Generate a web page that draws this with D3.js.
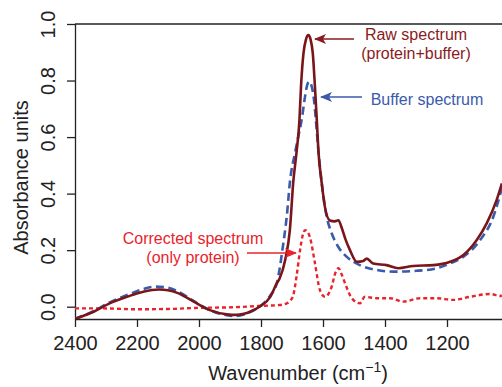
<!DOCTYPE html>
<html><head><meta charset="utf-8">
<script src="https://cdn.jsdelivr.net/npm/d3@7"></script>
<style>body{margin:0;background:#fff}svg{display:block;font-family:"Liberation Sans",Arial,Helvetica,sans-serif}</style>
</head><body>
<svg id="chart" width="502" height="387"></svg>
<script>
// ---- data ----
const rawWave = [2400,2340,2290,2230,2180,2130,2100,2070,2020,1965,1910,1880,1855,1830,1805,1770,1749,1740,1722,1707,1696,1685,1676,1671,1663,1655,1647,1640,1633,1626,1620,1615,1604,1594,1578,1562,1550,1540,1528,1513,1491,1470,1459,1438,1395,1357,1309,1244,1190,1147,1104,1072,1040,1023];
const rawAbs  = [-0.043,-0.018,0.011,0.036,0.053,0.061,0.058,0.049,0.020,-0.012,-0.027,-0.029,-0.025,-0.015,0.000,0.035,0.083,0.100,0.165,0.270,0.440,0.550,0.660,0.778,0.896,0.945,0.961,0.945,0.897,0.778,0.660,0.554,0.436,0.354,0.305,0.302,0.306,0.280,0.240,0.200,0.159,0.162,0.170,0.153,0.147,0.136,0.144,0.147,0.159,0.183,0.236,0.295,0.377,0.436];

const bufWave = [2400,2340,2290,2230,2180,2140,2100,2070,2020,1965,1910,1880,1855,1830,1805,1770,1749,1728,1717,1706,1690,1680,1669,1658,1652,1645,1638,1629,1623,1615,1604,1588,1572,1551,1524,1481,1427,1373,1298,1233,1190,1147,1093,1050,1023];
const bufAbs  = [-0.043,-0.016,0.014,0.042,0.062,0.071,0.067,0.055,0.022,-0.012,-0.030,-0.033,-0.028,-0.016,0.000,0.040,0.083,0.224,0.318,0.448,0.545,0.600,0.660,0.743,0.780,0.796,0.785,0.731,0.660,0.554,0.436,0.318,0.260,0.212,0.177,0.147,0.130,0.124,0.127,0.136,0.153,0.177,0.236,0.320,0.420];

const corWave = [2400,2320,2200,2100,2000,1890,1800,1740,1717,1705,1696,1685,1674,1666,1658,1650,1642,1626,1610,1594,1572,1560,1550,1540,1529,1507,1481,1465,1427,1384,1341,1287,1233,1180,1126,1061,1029,1023];
const corAbs  = [-0.006,-0.006,-0.009,-0.008,-0.004,-0.002,0.003,0.006,0.012,0.022,0.040,0.110,0.200,0.250,0.271,0.265,0.245,0.154,0.059,0.035,0.071,0.120,0.136,0.115,0.083,0.030,0.012,0.035,0.030,0.030,0.018,0.030,0.030,0.024,0.035,0.045,0.038,0.040];

const xTicks = [2400,2200,2000,1800,1600,1400,1200];
const yTicks = [0.0,0.2,0.4,0.6,0.8,1.0];

// ---- layout ----
const svg = d3.select("#chart");
const L = 75, R = 502, T = 24, B = 319;
const x = d3.scaleLinear().domain([2400, 1022.6]).range([L, R]);
const y = d3.scaleLinear().domain([-0.0435, 1.0]).range([B, T]);

svg.append("defs").append("clipPath").attr("id","clip")
  .append("rect").attr("x",L).attr("y",T-2).attr("width",R-L).attr("height",B-T+2);

const fs = 20;
// x axis
const xa = svg.append("g").attr("transform",`translate(0,${B})`)
  .call(d3.axisBottom(x).tickValues(xTicks).tickSize(8).tickPadding(9).tickFormat(d3.format("d")));
xa.select(".domain").attr("d",`M${L},0.5H${R}`).attr("stroke","#222").attr("stroke-width",1.3);
xa.selectAll(".tick line").attr("stroke","#222").attr("stroke-width",1.3);
xa.selectAll(".tick text").attr("font-size",fs).attr("fill","#222").attr("font-family",null);

// y axis
const ya = svg.append("g").attr("transform",`translate(${L},0)`)
  .call(d3.axisLeft(y).tickValues(yTicks).tickSize(8).tickPadding(0).tickFormat(d3.format(".1f")));
ya.select(".domain").attr("d",`M0.5,${B}V${T}`).attr("stroke","#222").attr("stroke-width",1.3);
ya.selectAll(".tick line").attr("stroke","#222").attr("stroke-width",1.3);
ya.selectAll(".tick text").attr("font-size",fs).attr("fill","#222").attr("font-family",null)
  .attr("x",null).attr("dy",null).attr("text-anchor","middle")
  .attr("transform","translate(-20,0) rotate(-90)");

// top frame line
svg.append("line").attr("x1",L).attr("x2",R).attr("y1",T).attr("y2",T).attr("stroke","#222").attr("stroke-width",1.3);

// axis titles
const xt = svg.append("text").attr("x",298).attr("y",380).attr("text-anchor","middle").attr("font-size",fs).attr("fill","#222");
xt.append("tspan").text("Wavenumber (cm");
xt.append("tspan").attr("font-size",14).attr("dy",-8).text("\u22121");
xt.append("tspan").attr("dy",8).text(")");

svg.append("text").attr("transform",`translate(28,${(T+B)/2 + 6}) rotate(-90)`).attr("text-anchor","middle")
  .attr("font-size",fs).attr("fill","#222").text("Absorbance units");

// ---- curves ----
const line = d3.line().x(d=>x(d[0])).y(d=>y(d[1])).curve(d3.curveMonotoneX);
const g = svg.append("g").attr("clip-path","url(#clip)");
const zip = (a,b)=>a.map((v,i)=>[v,b[i]]);

g.append("path").attr("d",line(zip(corWave,corAbs))).attr("fill","none")
  .attr("stroke","#e8232b").attr("stroke-width",2.4).attr("stroke-dasharray","4,3");
g.append("path").attr("d",line(zip(bufWave,bufAbs))).attr("fill","none")
  .attr("stroke","#3a5aab").attr("stroke-width",2.6).attr("stroke-dasharray","8,4.5");
g.append("path").attr("d",line(zip(rawWave,rawAbs))).attr("fill","none")
  .attr("stroke","#7a161a").attr("stroke-width",2.6);

// ---- annotations ----
const defs = svg.select("defs");
function marker(id,color){
  defs.append("marker").attr("id",id).attr("viewBox","0 0 12 10").attr("refX",11).attr("refY",5)
    .attr("markerWidth",12).attr("markerHeight",10).attr("markerUnits","userSpaceOnUse").attr("orient","auto")
    .append("path").attr("d","M0,0 L12,5 L0,10 L3,5 Z").attr("fill",color);
}
marker("aRaw","#8a1b22"); marker("aBuf","#3a5aab"); marker("aCor","#e8232b");

function annot(lines, cx, y0, dy, color){
  lines.forEach((t,i)=>svg.append("text").attr("x",cx).attr("y",y0+i*dy).attr("text-anchor","middle")
    .attr("font-size",16).attr("fill",color).text(t));
}
annot(["Raw spectrum","(protein+buffer)"],416,39.5,19.5,"#8a1b22");
svg.append("line").attr("x1",354).attr("y1",39).attr("x2",315).attr("y2",39)
  .attr("stroke","#8a1b22").attr("stroke-width",1.6).attr("marker-end","url(#aRaw)");

annot(["Buffer spectrum"],427,104.5,0,"#3a5aab");
svg.append("line").attr("x1",362).attr("y1",97).attr("x2",321).attr("y2",97)
  .attr("stroke","#3a5aab").attr("stroke-width",1.6).attr("marker-end","url(#aBuf)");

annot(["Corrected spectrum","(only protein)"],193,243.5,19.5,"#e8232b");
svg.append("line").attr("x1",247).attr("y1",253).attr("x2",296).attr("y2",253)
  .attr("stroke","#e8232b").attr("stroke-width",1.6).attr("marker-end","url(#aCor)");
</script>
</body></html>
